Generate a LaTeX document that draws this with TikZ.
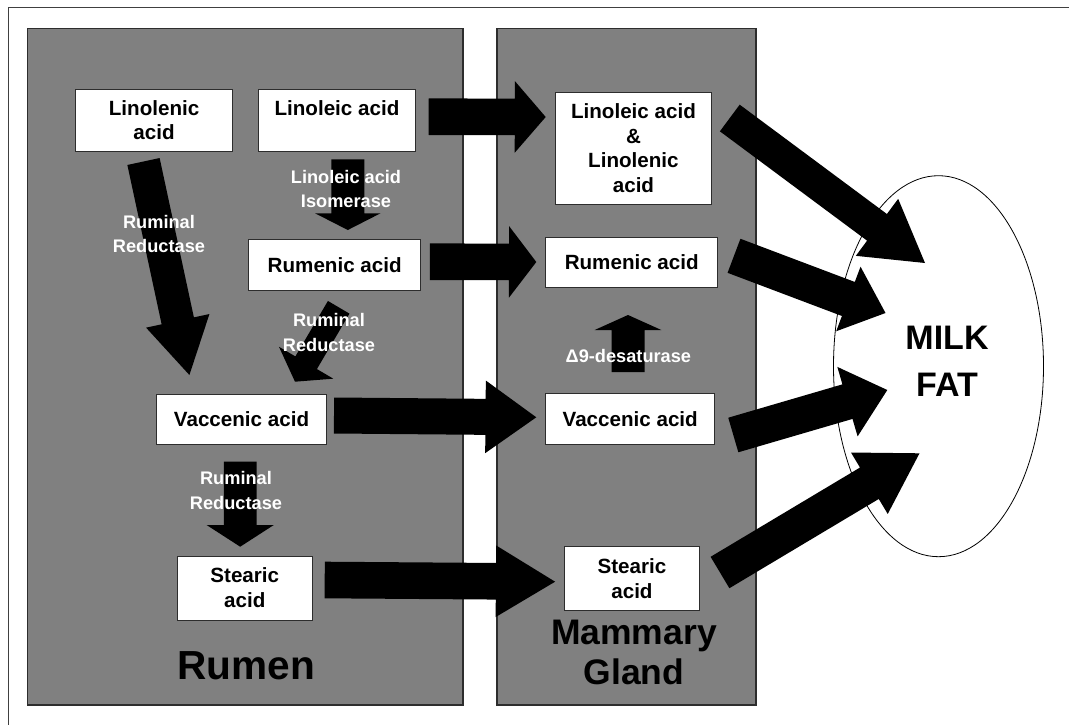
\documentclass[tikz,border=0pt]{standalone}
\usepackage{fontspec}
\setmainfont{Liberation Sans}
\usetikzlibrary{calc,shapes.geometric}
\definecolor{regiongray}{RGB}{128,128,128}
\definecolor{edgegray}{RGB}{45,45,45}
% block arrow: #1 start, #2 tip, #3 half shaft width, #4 half head width, #5 head length
\newcommand\BlkArrow[5]{%
  \coordinate (bah) at ($(#2)!#5pt!(#1)$);
  \fill[black] ($(#1)!#3pt!90:(#2)$) -- ($(bah)!#3pt!90:(#2)$) -- ($(bah)!#4pt!90:(#2)$) -- (#2)
    -- ($(bah)!#4pt!-90:(#2)$) -- ($(bah)!#3pt!-90:(#2)$) -- ($(#1)!#3pt!-90:(#2)$) -- cycle;}
\begin{document}
\begin{tikzpicture}[x=1pt,y=-1pt,
  region/.style={draw=edgegray, fill=regiongray, line width=1.3pt, inner sep=0pt},
  acid/.style={draw=edgegray, fill=white, line width=0.9pt, inner sep=0pt, align=center,
    font=\fontsize{20.6}{24.8}\selectfont\bfseries},
  enz/.style={text=white, inner sep=0pt, align=center,
    font=\fontsize{18.2}{24.3}\selectfont\bfseries},
  bigtext/.style={inner sep=0pt, align=center, text=black}]
\useasboundingbox (0,0) rectangle (1069,725);
% outer frame
\draw[black!75, line width=1.2pt] (8.6,740) -- (8.6,7.3) -- (1080,7.3);
% regions
\node[region, minimum width=435.5, minimum height=676.7] (rumen) at (245.25,366.65) {};
\node[region, minimum width=259, minimum height=676.7] (mammary) at (626.5,366.65) {};
% rumen acids
\node[acid, minimum width=156.6, minimum height=61.7] (linolenic) at (154.1,120.15) {Linolenic\\acid};
\node[acid, minimum width=157.3, minimum height=61.7] (linoleicR) at (336.95,120.15) {Linoleic acid\\\phantom{acid}};
\node[acid, minimum width=172.2, minimum height=50.7] (rumenicR) at (334.7,264.65) {Rumenic acid};
\node[acid, minimum width=169.7, minimum height=50.3] (vaccenicR) at (241.55,419.15) {Vaccenic acid};
\node[acid, minimum width=135, minimum height=64] (stearicR) at (244.8,588) {Stearic\\acid};
% mammary acids
\node[acid, minimum width=156.7, minimum height=111.7] (llM) at (633.45,148.15) {Linoleic acid\\\&\\Linolenic\\acid};
\node[acid, minimum width=172.1, minimum height=50] (rumenicM) at (631.75,262.3) {Rumenic acid};
\node[acid, minimum width=169.1, minimum height=50.7] (vaccenicM) at (630.25,418.65) {Vaccenic acid};
\node[acid, minimum width=134.1, minimum height=64] (stearicM) at (631.95,578.7) {Stearic\\acid};
% milk fat
\node[ellipse, draw=black, fill=white, line width=0.8pt, minimum width=210, minimum height=381, inner sep=0pt] (milk) at (938.5,366.2) {};
\node[bigtext, font=\fontsize{34}{46.7}\selectfont\bfseries] (milkText) at (947,361.2) {MILK\\FAT};
% arrow end points
\coordinate (a1s) at (428.7,116.7);  \coordinate (a1e) at (545.7,117);
\coordinate (a2s) at (429.8,261.7);  \coordinate (a2e) at (536.3,262);
\coordinate (a3s) at (334,415.5);    \coordinate (a3e) at (536.3,417.3);
\coordinate (a4s) at (324.7,580);    \coordinate (a4e) at (555.1,581.7);
\coordinate (a5s) at (143.5,161.5);  \coordinate (a5e) at (189.4,375);
\coordinate (a6s) at (347.8,159.3);  \coordinate (a6e) at (347.8,230);
\coordinate (a7s) at (338.7,307.3);  \coordinate (a7e) at (295,381.7);
\coordinate (a8s) at (240.2,461.7);  \coordinate (a8e) at (240.2,546.7);
\coordinate (a9s) at (628,372);      \coordinate (a9e) at (628,315);
\coordinate (a10s) at (729.8,118);   \coordinate (a10e) at (925,263);
\coordinate (a11s) at (734,255.8);   \coordinate (a11e) at (885.5,313);
\coordinate (a12s) at (733.3,435);   \coordinate (a12e) at (887.3,390);
\coordinate (a13s) at (720,572.5);   \coordinate (a13e) at (919.5,453.3);
% block arrows
\BlkArrow{a1s}{a1e}{18.3}{35.8}{30.9}
\BlkArrow{a2s}{a2e}{18.3}{35.8}{27.3}
\BlkArrow{a3s}{a3e}{18}{36.3}{50.8}
\BlkArrow{a4s}{a4e}{18.3}{35.8}{59.2}
\BlkArrow{a5s}{a5e}{16.5}{32.4}{55.4}
\BlkArrow{a6s}{a6e}{16.5}{32.7}{16.7}
\BlkArrow{a7s}{a7e}{12.5}{31.5}{22}
\BlkArrow{a8s}{a8e}{16.3}{33.6}{21.7}
\BlkArrow{a9s}{a9e}{16.5}{33.3}{15}
\BlkArrow{a10s}{a10e}{16.6}{35.5}{59.8}
\BlkArrow{a11s}{a11e}{18.2}{34.5}{39.7}
\BlkArrow{a12s}{a12e}{18}{36.2}{41.5}
\BlkArrow{a13s}{a13e}{18.3}{35.8}{58.4}
% enzyme labels
\node[enz] (isoLabel) at (346,188.9) {Linoleic acid\\Isomerase};
\node[enz] (rr1) at (159,233.9) {Ruminal\\Reductase};
\node[enz] (rr2) at (329,332.5) {Ruminal\\Reductase};
\node[enz] (rr3) at (236,490.5) {Ruminal\\Reductase};
\node[enz] (d9) at (628.4,356) {Δ9-desaturase};
% region labels
\node[bigtext, anchor=base, font=\fontsize{40.6}{48}\selectfont\bfseries] (rumenLabel) at (246.2,679) {Rumen};
\node[bigtext, font=\fontsize{35.5}{40}\selectfont\bfseries] (mammaryLabel) at (634,652.3) {Mammary\\Gland};
\end{tikzpicture}
\end{document}
